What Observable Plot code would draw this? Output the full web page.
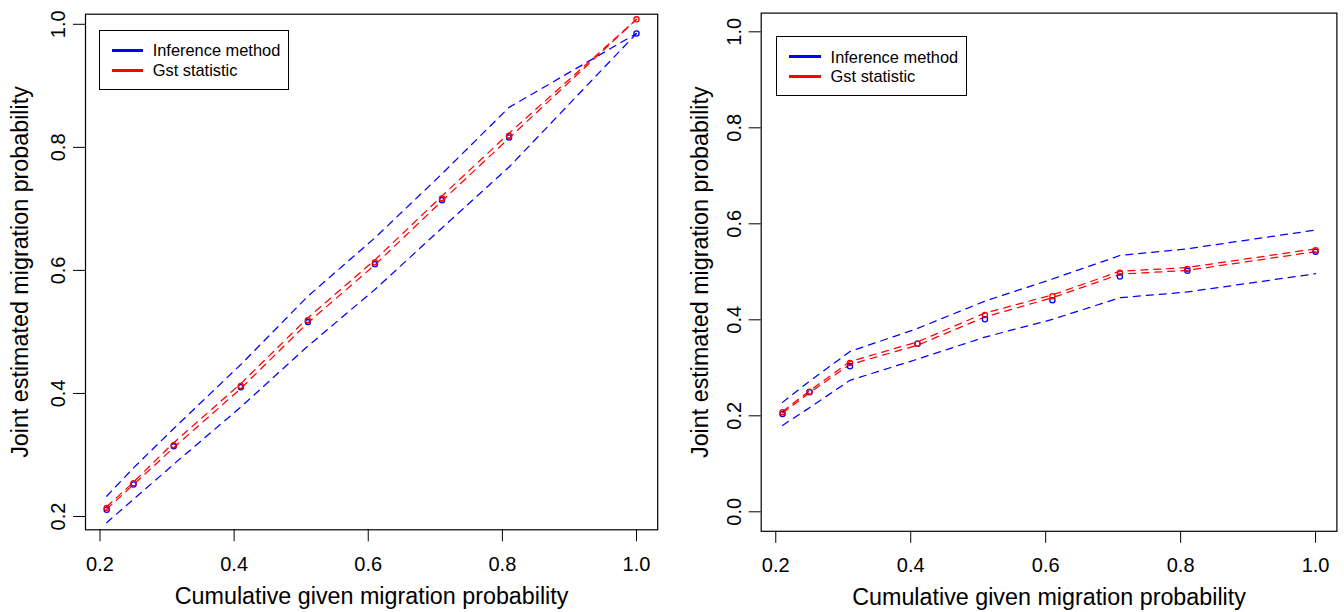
<!DOCTYPE html>
<html>
<head>
<meta charset="utf-8">
<script src="https://cdn.jsdelivr.net/npm/d3@7"></script>
<script src="https://cdn.jsdelivr.net/npm/@observablehq/plot@0.6"></script>
<style>
html, body { margin: 0; padding: 0; background: #fff; }
#wrap { position: relative; width: 1344px; height: 612px; display: flex; font-family: "Liberation Sans", Arial, sans-serif; }
.panel { position: relative; width: 672px; height: 612px; }
.panel svg { display: block; }
.legend-box { position: absolute; border: 1px solid #000; background: #fff; box-sizing: border-box; }
.legend-swatch { position: absolute; height: 3px; }
.legend-text { position: absolute; font-size: 16.4px; line-height: 20px; white-space: nowrap; color: #000; }
</style>
</head>
<body>
<div id="wrap"></div>
<script>
// ---- data ----
const givenProb = [0.21, 0.25, 0.31, 0.41, 0.51, 0.61, 0.71, 0.81, 1.0];

// left panel
const leftInferenceMean  = [0.211, 0.252, 0.314, 0.410, 0.516, 0.610, 0.714, 0.816, 0.985];
const leftInferenceUpper = [0.233, 0.279, 0.343, 0.447, 0.558, 0.653, 0.757, 0.865, 0.985];
const leftInferenceLower = [0.190, 0.228, 0.285, 0.378, 0.477, 0.569, 0.669, 0.768, 0.985];
const leftGstMean  = [0.214, 0.254, 0.316, 0.412, 0.519, 0.613, 0.717, 0.819, 1.008];
const leftGstUpper = [0.216, 0.256, 0.320, 0.416, 0.523, 0.617, 0.721, 0.823, 1.008];
const leftGstLower = [0.212, 0.252, 0.312, 0.408, 0.515, 0.609, 0.713, 0.815, 1.008];

// right panel
const rightInferenceMean  = [0.204, 0.249, 0.303, 0.350, 0.401, 0.441, 0.490, 0.502, 0.542];
const rightInferenceUpper = [0.228, 0.272, 0.334, 0.382, 0.439, 0.485, 0.534, 0.548, 0.587];
const rightInferenceLower = [0.180, 0.217, 0.274, 0.318, 0.364, 0.401, 0.446, 0.458, 0.496];
const rightGstMean  = [0.2075, 0.250, 0.310, 0.350, 0.410, 0.449, 0.498, 0.506, 0.545];
const rightGstUpper = [0.209, 0.252, 0.313, 0.354, 0.414, 0.452, 0.501, 0.509, 0.548];
const rightGstLower = [0.206, 0.248, 0.307, 0.347, 0.406, 0.446, 0.495, 0.503, 0.542];

const xTicks = [0.2, 0.4, 0.6, 0.8, 1.0];
const leftYTicks = [0.2, 0.4, 0.6, 0.8, 1.0];
const rightYTicks = [0.0, 0.2, 0.4, 0.6, 0.8, 1.0];
const legendLabels = ["Inference method", "Gst statistic"];
const legendColors = ["#0000ff", "#ff0000"];
const xTitle = "Cumulative given migration probability";
const yTitle = "Joint estimated migration probability";

// ---- drawing ----
const BLUE = "#0000ff", RED = "#ff0000";
const DASH = "7,6";
const fmt = d3.format(".1f");
const rows = ys => givenProb.map((x, i) => ({x, y: ys[i]}));

function panel(cfg) {
  const lineOpts = c => ({x: "x", y: "y", stroke: c, strokeWidth: 1.25, strokeDasharray: DASH});
  const dotOpts = c => ({x: "x", y: "y", r: 2.6, stroke: c, strokeWidth: 1.3, fill: "none"});
  return Plot.plot({
    width: 672,
    height: 612,
    marginLeft: cfg.ml, marginRight: cfg.mr, marginTop: cfg.mt, marginBottom: cfg.mb,
    x: {domain: cfg.xDomain},
    y: {domain: cfg.yDomain},
    style: {fontFamily: "'Liberation Sans', Arial, sans-serif", background: "white", overflow: "visible", color: "black"},
    marks: [
      Plot.line(rows(cfg.infUpper), lineOpts(BLUE)),
      Plot.line(rows(cfg.infLower), lineOpts(BLUE)),
      Plot.line(rows(cfg.gstUpper), lineOpts(RED)),
      Plot.line(rows(cfg.gstLower), lineOpts(RED)),
      Plot.dot(rows(cfg.infMean), dotOpts(BLUE)),
      Plot.dot(rows(cfg.gstMean), dotOpts(RED)),
      Plot.frame({stroke: "black", strokeWidth: 1.2}),
      Plot.axisX({ticks: xTicks, tickSize: 12, stroke: "black", fill: "none", label: null}),
      Plot.axisY({ticks: cfg.yTicks, tickSize: 12, stroke: "black", fill: "none", label: null}),
      Plot.text(xTicks, {x: d => d, frameAnchor: "bottom", dy: cfg.xTickDy, text: d => fmt(d), fontSize: 20, lineAnchor: "middle", fill: "black"}),
      Plot.text(cfg.yTicks, {y: d => d, frameAnchor: "left", dx: cfg.yTickDx, rotate: -90, text: d => fmt(d), fontSize: 20, textAnchor: "middle", lineAnchor: "middle", fill: "black"}),
      Plot.text([xTitle], {frameAnchor: "bottom", dy: cfg.xTitleDy, text: d => d, fontSize: 23.3, lineAnchor: "middle", fill: "black"}),
      Plot.text([yTitle], {frameAnchor: "left", dx: cfg.yTitleDx, rotate: -90, text: d => d, fontSize: 23.3, textAnchor: "middle", lineAnchor: "middle", fill: "black"})
    ]
  });
}

function legend(container, box, lineX1, lineX2, lineYs, textX) {
  const b = document.createElement("div");
  b.className = "legend-box";
  Object.assign(b.style, {left: box.x + "px", top: box.y + "px", width: box.w + "px", height: box.h + "px"});
  container.appendChild(b);
  legendLabels.forEach((lab, i) => {
    const s = document.createElement("div");
    s.className = "legend-swatch";
    Object.assign(s.style, {left: lineX1 + "px", width: (lineX2 - lineX1) + "px", top: (lineYs[i] - 1.5) + "px", background: legendColors[i]});
    container.appendChild(s);
    const t = document.createElement("div");
    t.className = "legend-text";
    t.textContent = lab;
    Object.assign(t.style, {left: textX + "px", top: (lineYs[i] - 10) + "px"});
    container.appendChild(t);
  });
}

const wrap = document.getElementById("wrap");

const left = document.createElement("div");
left.className = "panel";
left.appendChild(panel({
  ml: 85, mr: 14.8, mt: 13.7, mb: 82.7,
  xDomain: [0.1784, 1.0316], yDomain: [0.1784, 1.0164],
  yTicks: leftYTicks,
  infMean: leftInferenceMean, infUpper: leftInferenceUpper, infLower: leftInferenceLower,
  gstMean: leftGstMean, gstUpper: leftGstUpper, gstLower: leftGstLower,
  xTickDy: 35, yTickDx: -27.3, xTitleDy: 66.7, yTitleDx: -65
}));
legend(left, {x: 99, y: 30, w: 190, h: 60}, 112.3, 143.3, [50, 70], 152.7);
wrap.appendChild(left);

const right = document.createElement("div");
right.className = "panel";
right.appendChild(panel({
  ml: 88.7, mr: 7.6, mt: 12.6, mb: 81.2,
  xDomain: [0.1784, 1.0316], yDomain: [-0.0406, 1.039],
  yTicks: rightYTicks,
  infMean: rightInferenceMean, infUpper: rightInferenceUpper, infLower: rightInferenceLower,
  gstMean: rightGstMean, gstUpper: rightGstUpper, gstLower: rightGstLower,
  xTickDy: 34.2, yTickDx: -27, xTitleDy: 66, yTitleDx: -61
}));
legend(right, {x: 103.7, y: 36, w: 191, h: 60}, 116.7, 148.7, [56.7, 76.3], 158.6);
wrap.appendChild(right);
</script>
</body>
</html>
